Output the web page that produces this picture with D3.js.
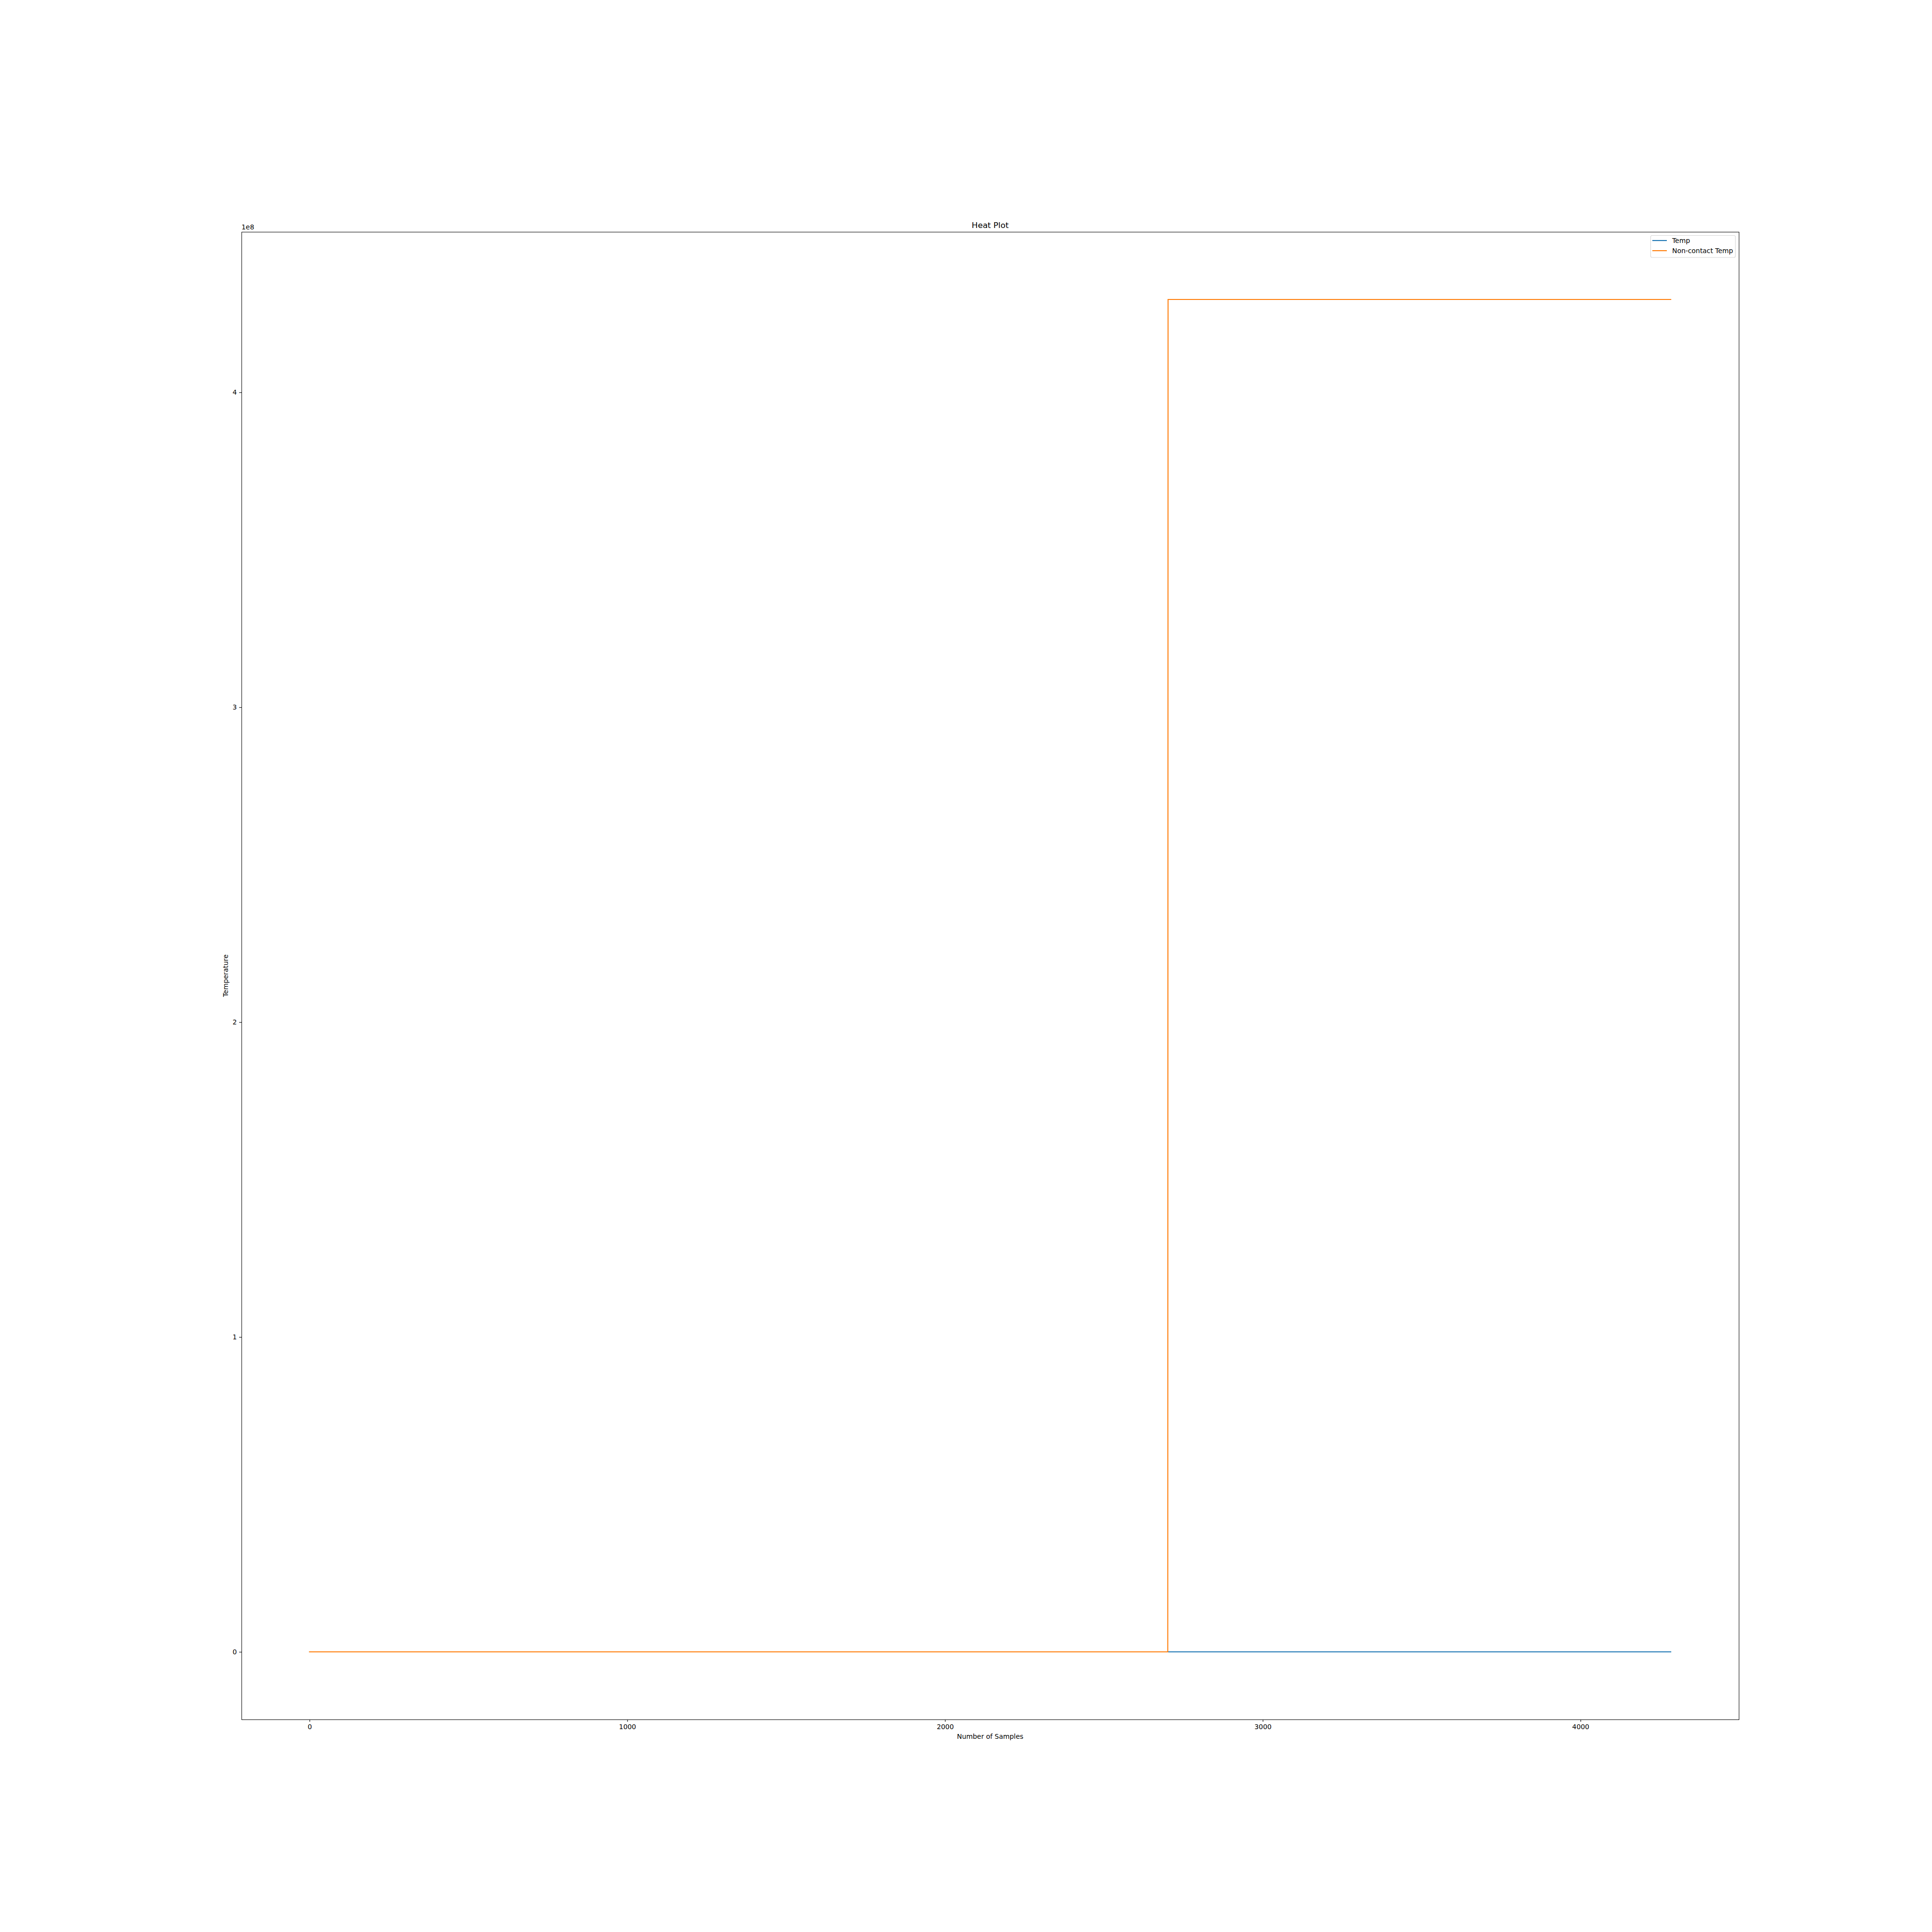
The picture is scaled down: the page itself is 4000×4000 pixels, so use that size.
<!DOCTYPE html>
<html>
<head>
<meta charset="utf-8">
<script src="https://cdn.jsdelivr.net/npm/d3@7"></script>
<style>
  html, body { margin: 0; padding: 0; background: #fff; }
  svg { display: block; font-family: "DejaVu Sans", sans-serif; }
</style>
</head>
<body>
<svg id="chart" width="4000" height="4000"></svg>
<script>
// ---- data ----
const seriesNames = ["Temp", "Non-contact Temp"];
// Temp: stays near zero (on the 1e8 scale) for all samples
const tempX = [0, 1000, 2000, 2701, 3000, 4284];
const tempY = [25, 25, 25, 25, 25, 25];
// Non-contact Temp: near zero until ~sample 2701, then jumps to ~4.295e8
const nonContactX = [0, 1000, 2000, 2701, 2702, 3000, 4000, 4284];
const nonContactY = [25, 25, 25, 25, 4.295e8, 4.295e8, 4.295e8, 4.295e8];
const xTicks = [0, 1000, 2000, 3000, 4000];
const yTicks = [0, 1e8, 2e8, 3e8, 4e8];
const yOffsetLabel = "1e8";
const colors = ["#1f77b4", "#ff7f0e"];

(function () {
  // ---- layout ----
  const W = 4000, H = 4000;
  const mLeft = 500, mRight = 3600, mTop = 480, mBottom = 3560;
  const svg = d3.select("#chart");
  svg.append("rect").attr("width", W).attr("height", H).attr("fill", "#fff");

  const allX = tempX.concat(nonContactX);
  const allY = tempY.concat(nonContactY);
  const [xmin, xmax] = d3.extent(allX);
  const [ymin, ymax] = d3.extent(allY);
  const xm = (xmax - xmin) * 0.05, ym = (ymax - ymin) * 0.05;

  const x = d3.scaleLinear().domain([xmin - xm, xmax + xm]).range([mLeft, mRight]);
  const y = d3.scaleLinear().domain([ymin - ym, ymax + ym]).range([mBottom, mTop]);

  const fs = 13.9;
  const tickLen = 4.86;

  // lines
  const line = d3.line().x(d => x(d[0])).y(d => y(d[1]));
  const plot = svg.append("g");
  plot.append("path")
    .datum(tempX.map((v, i) => [v, tempY[i]]))
    .attr("d", line).attr("fill", "none")
    .attr("stroke", colors[0]).attr("stroke-width", 2.1)
    .attr("stroke-linecap", "square");
  plot.append("path")
    .datum(nonContactX.map((v, i) => [v, nonContactY[i]]))
    .attr("d", line).attr("fill", "none")
    .attr("stroke", colors[1]).attr("stroke-width", 2.1)
    .attr("stroke-linecap", "square");

  // axes
  const xAxis = d3.axisBottom(x).tickValues(xTicks).tickFormat(d3.format("d"))
    .tickSizeInner(tickLen).tickSizeOuter(0).tickPadding(4.86);
  const yAxis = d3.axisLeft(y).tickValues(yTicks).tickFormat(d => String(d / 1e8))
    .tickSizeInner(tickLen).tickSizeOuter(0).tickPadding(4.86);

  const gx = svg.append("g").attr("transform", `translate(0,${mBottom})`).call(xAxis);
  const gy = svg.append("g").attr("transform", `translate(${mLeft},0)`).call(yAxis);
  [gx, gy].forEach(g => {
    g.select(".domain").remove();
    g.selectAll(".tick line").attr("stroke", "#000").attr("stroke-width", 1.11);
    g.selectAll(".tick text").attr("fill", "#000").attr("font-size", fs)
      .attr("font-family", "DejaVu Sans");
  });
  gx.selectAll(".tick text").attr("dy", "0.76em");

  // frame
  svg.append("rect").attr("x", mLeft + 0.5).attr("y", mTop + 0.5)
    .attr("width", mRight - mLeft).attr("height", mBottom - mTop)
    .attr("fill", "none").attr("stroke", "#000").attr("stroke-width", 1.11)
    .attr("shape-rendering", "crispEdges");

  // offset text
  svg.append("text").attr("x", mLeft).attr("y", mTop - 5)
    .attr("font-size", fs).attr("fill", "#000").text(yOffsetLabel);

  // title
  svg.append("text").attr("x", (mLeft + mRight) / 2).attr("y", mTop - 8.3)
    .attr("text-anchor", "middle").attr("font-size", 16.7).attr("fill", "#000")
    .text("Heat Plot");

  // axis labels
  svg.append("text").attr("x", (mLeft + mRight) / 2).attr("y", 3600)
    .attr("text-anchor", "middle").attr("font-size", fs).attr("fill", "#000")
    .text("Number of Samples");
  svg.append("text")
    .attr("transform", `translate(${472},${(mTop + mBottom) / 2}) rotate(-90)`)
    .attr("text-anchor", "middle").attr("font-size", fs).attr("fill", "#000")
    .text("Temperature");

  // legend
  const lg = svg.append("g");
  lg.append("rect").attr("x", 3417.5).attr("y", 487.5).attr("width", 175.5).attr("height", 45.5)
    .attr("rx", 3).attr("fill", "#fff").attr("fill-opacity", 0.8)
    .attr("stroke", "#d5d5d5").attr("stroke-width", 1.11);
  seriesNames.forEach((name, i) => {
    const cy = 498 + i * 21;
    lg.append("line").attr("x1", 3421).attr("x2", 3451).attr("y1", cy).attr("y2", cy)
      .attr("stroke", colors[i]).attr("stroke-width", 2.1);
    lg.append("text").attr("x", 3462).attr("y", cy + 5)
      .attr("font-size", fs).attr("fill", "#000").text(name);
  });
})();
</script>
</body>
</html>
